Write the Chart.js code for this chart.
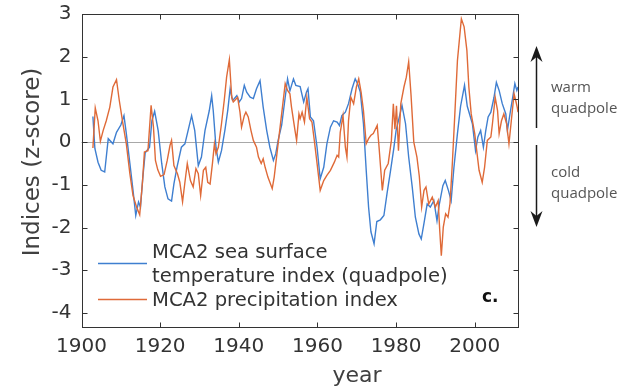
<!DOCTYPE html>
<html lang="en">
<head>
<meta charset="UTF-8">
<title>MCA2 indices</title>
<script src="https://cdn.jsdelivr.net/npm/chart.js"></script>
<style>
    html, body { margin: 0; padding: 0; background: #ffffff; }
    #wrap { width: 634px; height: 391px; }
</style>
</head>
<body>
<div id="wrap"><canvas id="mcaChart" width="634" height="391"></canvas></div>
<script>
// values (year, z-score)
const sstYears = [
    1902.9, 1903.4, 1904.2, 1905.0, 1905.9, 1906.8, 1908.0, 1908.9, 1910.0, 1910.8,
    1911.4, 1912.3, 1913.1, 1913.8, 1914.5, 1915.0, 1915.6, 1916.2, 1917.3, 1917.9,
    1918.6, 1919.5, 1920.4, 1921.2, 1922.0, 1922.9, 1923.5, 1924.3, 1925.4, 1926.3,
    1927.1, 1928.0, 1928.8, 1929.7, 1930.5, 1931.4, 1932.5, 1933.1, 1933.5, 1934.2,
    1934.8, 1935.6, 1936.5, 1937.2, 1937.8, 1938.4, 1938.9, 1939.5, 1940.1, 1940.7,
    1941.4, 1942.0, 1942.9, 1943.7, 1944.5, 1945.4, 1946.2, 1947.1, 1947.9, 1948.8,
    1949.4, 1950.0, 1950.9, 1951.8, 1952.4, 1953.0, 1953.9, 1954.5, 1955.6, 1956.5,
    1957.2, 1957.6, 1958.2, 1959.0, 1959.9, 1960.7, 1961.6, 1962.4, 1963.3, 1964.1,
    1965.0, 1965.6, 1966.2, 1967.1, 1967.9, 1968.8, 1969.6, 1970.2, 1970.9, 1971.7,
    1972.4, 1973.0, 1973.6, 1974.4, 1975.1, 1976.0, 1976.9, 1977.7, 1978.6, 1979.4,
    1980.0, 1980.9, 1981.5, 1982.4, 1983.2, 1984.1, 1984.9, 1985.8, 1986.4, 1987.1,
    1987.9, 1988.7, 1989.6, 1990.4, 1991.0, 1991.9, 1992.5, 1993.3, 1994.0, 1994.7,
    1995.6, 1996.4, 1997.4, 1998.1, 1999.4, 2000.2, 2000.8, 2001.5, 2002.2, 2002.8,
    2003.4, 2004.1, 2004.9, 2005.5, 2006.2, 2007.0, 2007.9, 2008.3, 2009.1, 2009.8,
    2010.2, 2010.7, 2011.0
];
const sstValues = [
    0.6, -0.15, -0.47, -0.66, -0.7, 0.08, -0.04, 0.23, 0.4, 0.62,
    0.2, -0.5, -1.13, -1.72, -1.4, -1.52, -0.82, -0.25, -0.12, 0.5,
    0.72, 0.27, -0.5, -1.05, -1.33, -1.38, -0.98, -0.58, -0.12, -0.04,
    0.27, 0.62, 0.27, -0.55, -0.35, 0.27, 0.74, 1.09, 0.74, -0.12,
    -0.47, -0.2, 0.3, 0.75, 1.25, 0.98, 1.02, 1.09, 0.94, 1.02,
    1.33, 1.17, 1.05, 1.02, 1.25, 1.44, 0.82, 0.27, -0.12, -0.43,
    -0.27, 0.04, 0.4, 1.05, 1.48, 1.2, 1.48, 1.33, 1.3, 0.94,
    1.17, 1.25, 0.59, 0.5, -0.12, -0.86, -0.59, -0.04, 0.35, 0.5,
    0.47, 0.39, 0.62, 0.7, 0.9, 1.25, 1.48, 1.37, 1.17, 0.43,
    -0.66, -1.52, -2.1, -2.38, -1.86, -1.82, -1.72, -1.2, -0.66, -0.16,
    0.27, 0.62, 0.86, 0.43, -0.35, -1.05, -1.76, -2.15, -2.27, -1.9,
    -1.45, -1.52, -1.37, -1.84, -1.45, -1.02, -0.9, -1.13, -1.37, -0.6,
    0.2, 0.84, 1.33, 0.84, 0.43, -0.2, 0.12, 0.27, -0.12, 0.27,
    0.59, 0.7, 1.05, 1.4, 1.21, 0.9, 0.66, 0.27, 0.74, 1.13,
    1.37, 1.21, 1.29
];
const precipYears = [
    1902.9, 1903.5, 1904.2, 1904.8, 1905.5, 1906.3, 1907.2, 1908.0, 1908.9, 1909.6,
    1910.5, 1911.4, 1912.3, 1913.1, 1914.0, 1914.8, 1915.5, 1916.0, 1916.9, 1917.7,
    1918.3, 1918.8, 1919.4, 1920.1, 1921.0, 1921.8, 1922.5, 1922.9, 1923.5, 1924.4,
    1925.0, 1925.7, 1926.3, 1926.9, 1927.7, 1928.4, 1929.1, 1929.7, 1930.3, 1931.0,
    1931.6, 1932.1, 1932.7, 1933.3, 1933.8, 1934.2, 1934.8, 1935.6, 1936.3, 1936.9,
    1937.6, 1938.2, 1938.6, 1939.0, 1939.7, 1940.3, 1940.7, 1941.4, 1941.8, 1942.4,
    1943.1, 1943.7, 1944.5, 1945.0, 1945.7, 1946.2, 1946.7, 1947.4, 1947.9, 1948.5,
    1949.0, 1949.6, 1950.5, 1951.1, 1951.8, 1952.4, 1953.0, 1953.4, 1954.3, 1954.7,
    1955.3, 1955.6, 1956.1, 1956.7, 1957.3, 1958.0, 1958.6, 1959.2, 1959.9, 1960.7,
    1961.6, 1962.4, 1963.3, 1964.3, 1965.0, 1965.4, 1965.8, 1966.5, 1967.1, 1967.5,
    1967.9, 1968.5, 1969.2, 1969.9, 1970.5, 1971.1, 1971.7, 1972.4, 1973.0, 1973.6,
    1974.2, 1975.2, 1975.6, 1976.5, 1977.1, 1978.0, 1978.8, 1979.3, 1979.7, 1980.1,
    1980.6, 1981.2, 1982.0, 1982.6, 1983.2, 1983.8, 1984.5, 1985.3, 1985.9, 1986.5,
    1987.1, 1987.6, 1988.3, 1989.2, 1990.0, 1990.7, 1991.1, 1991.5, 1992.0, 1992.6,
    1993.2, 1993.7, 1994.3, 1994.9, 1995.6, 1996.3, 1996.6, 1997.3, 1998.0, 1998.5,
    1999.1, 2000.0, 2000.5, 2001.1, 2001.9, 2002.5, 2003.2, 2004.1, 2004.5, 2005.2,
    2005.8, 2006.2, 2006.8, 2007.4, 2008.1, 2008.7, 2009.3, 2010.0, 2010.4, 2010.8,
    2011.0
];
const precipValues = [
    -0.14, 0.8, 0.5, 0.02, 0.27, 0.5, 0.82, 1.29, 1.46, 0.98,
    0.45, -0.04, -0.74, -1.25, -1.52, -1.7, -0.94, -0.23, -0.2, 0.86,
    0.35, -0.43, -0.65, -0.8, -0.76, -0.43, -0.08, 0.04, -0.55, -0.74,
    -0.94, -1.4, -0.94, -0.5, -0.9, -1.05, -0.62, -0.74, -1.25, -0.66,
    -0.59, -0.94, -0.98, -0.5, -0.04, -0.27, -0.12, 0.43, 0.98, 1.52,
    1.93, 1.05, 0.94, 0.98, 1.05, 0.7, 0.35, 0.62, 0.7, 0.59,
    0.27, 0.04, -0.12, -0.35, -0.5, -0.39, -0.59, -0.82, -0.94, -1.09,
    -0.82, -0.35, 0.35, 0.82, 1.37, 1.21, 1.13, 0.82, 0.27, 0.04,
    0.66, 0.55, 0.7, 0.47, 1.05, 0.55, 0.47, 0.04, -0.5, -1.13,
    -0.9, -0.78, -0.66, -0.47, -0.31, -0.35, 0.23, 0.62, -0.12, -0.35,
    0.5, 1.05, 0.9, 1.29, 1.48, 1.17, 0.74, -0.04, 0.08, 0.16,
    0.2, 0.39, -0.04, -1.13, -0.66, -0.5, 0.04, 0.9, 0.3, 0.85,
    -0.2, 0.9, 1.29, 1.52, 1.88, 1.1, 0.0, -0.35, -0.8, -1.52,
    -1.13, -1.05, -1.45, -1.29, -1.52, -1.37, -2.07, -2.66, -1.99, -1.68,
    -1.76, -1.45, -0.5, 0.59, 1.91, 2.6, 2.89, 2.7, 2.15, 1.29,
    0.66, 0.2, -0.2, -0.66, -0.94, -0.59, 0.04, 0.12, 0.43, 1.05,
    0.74, 0.2, 0.5, 0.66, 0.43, -0.04, 0.5, 1.13, 0.98, 0.82,
    0.7
];
const xTicks = [1900, 1920, 1940, 1960, 1980, 2000];
const yTicks = [-4, -3, -2, -1, 0, 1, 2, 3];
const sstLabel = ["MCA2 sea surface", "temperature index (quadpole)"];
const precipLabel = ["MCA2 precipitation index"];

const BLUE = "#3f7fd0";
const ORANGE = "#df6a38";
const AXIS = "#333333";
const FONT = "'DejaVu Sans', sans-serif";

// box, inward ticks, zero line, axis titles, legend and the side notes
const figureExtras = {
    id: "figureExtras",
    beforeDatasetsDraw(chart) {
        const { ctx, chartArea: a, scales: { y } } = chart;
        const y0 = Math.round(y.getPixelForValue(0)) + 0.5;
        ctx.save();
        ctx.strokeStyle = "#a8a8a8";
        ctx.lineWidth = 1;
        ctx.beginPath();
        ctx.moveTo(a.left, y0);
        ctx.lineTo(a.right, y0);
        ctx.stroke();
        ctx.restore();
    },
    afterDraw(chart) {
        const { ctx, chartArea: a, scales: { x, y } } = chart;
        ctx.save();
        ctx.strokeStyle = AXIS;
        ctx.lineWidth = 1;
        const L = Math.round(a.left) + 0.5, R = Math.round(a.right) + 0.5;
        const T = Math.round(a.top) + 0.5, B = Math.round(a.bottom) + 0.5;
        ctx.strokeRect(L, T, R - L, B - T);
        ctx.beginPath();
        xTicks.forEach(v => {
            const px = Math.round(x.getPixelForValue(v)) + 0.5;
            ctx.moveTo(px, B); ctx.lineTo(px, B - 5);
            ctx.moveTo(px, T); ctx.lineTo(px, T + 5);
        });
        yTicks.forEach(v => {
            const py = Math.round(y.getPixelForValue(v)) + 0.5;
            ctx.moveTo(L, py); ctx.lineTo(L + 5, py);
            ctx.moveTo(R, py); ctx.lineTo(R - 5, py);
        });
        ctx.stroke();

        // axis titles (placed like the original, not centred on the axes)
        ctx.fillStyle = "#404040";
        ctx.font = "22px " + FONT;
        ctx.textAlign = "center";
        ctx.textBaseline = "middle";
        ctx.fillText("year", 357, 376);
        ctx.save();
        ctx.translate(33, 162);
        ctx.rotate(-Math.PI / 2);
        ctx.font = "23px " + FONT;
        ctx.fillText("Indices (z-score)", 0, 0);
        ctx.restore();

        // legend
        ctx.lineWidth = 1.4;
        ctx.strokeStyle = BLUE;
        ctx.beginPath(); ctx.moveTo(98, 263.5); ctx.lineTo(147, 263.5); ctx.stroke();
        ctx.strokeStyle = ORANGE;
        ctx.beginPath(); ctx.moveTo(98, 299.5); ctx.lineTo(147, 299.5); ctx.stroke();
        ctx.fillStyle = AXIS;
        ctx.font = "19.6px " + FONT;
        ctx.textBaseline = "middle";
        ctx.textAlign = "left";
        ctx.fillText(sstLabel[0], 152, 253);
        ctx.fillText(sstLabel[1], 152, 277);
        ctx.fillText(precipLabel[0], 152, 301);
        ctx.font = "bold 17px " + FONT;
        ctx.fillStyle = "#111";
        ctx.fillText("c.", 482, 298);

        // arrows on the right
        const ax = 536.5;
        drawArrow(ctx, ax, 128, 46);
        drawArrow(ctx, ax, 145, 227);
        ctx.fillStyle = "#555";
        ctx.font = "15px 'Open Sans', sans-serif";
        ctx.fillText("warm", 551, 88);
        ctx.fillText("quadpole", 551, 109);
        ctx.fillText("cold", 551, 173);
        ctx.fillText("quadpole", 551, 194);
        ctx.restore();
    }
};

function drawArrow(ctx, x, from, tip) {
    const dir = tip < from ? 1 : -1;
    ctx.strokeStyle = "#1a1a1a";
    ctx.fillStyle = "#1a1a1a";
    ctx.lineWidth = 1.5;
    ctx.beginPath();
    ctx.moveTo(x, from);
    ctx.lineTo(x, tip + dir * 10);
    ctx.stroke();
    ctx.beginPath();
    ctx.moveTo(x, tip);
    ctx.lineTo(x - 6, tip + dir * 16);
    ctx.lineTo(x, tip + dir * 11);
    ctx.lineTo(x + 6, tip + dir * 16);
    ctx.closePath();
    ctx.fill();
}

new Chart(document.getElementById("mcaChart"), {
    type: "line",
    data: {
        datasets: [
            {
                label: sstLabel.join(" "),
                data: sstYears.map((yr, i) => ({ x: yr, y: sstValues[i] })),
                borderColor: BLUE,
                borderWidth: 1.4,
                pointRadius: 0,
                tension: 0,
                order: 1
            },
            {
                label: precipLabel[0],
                data: precipYears.map((yr, i) => ({ x: yr, y: precipValues[i] })),
                borderColor: ORANGE,
                borderWidth: 1.4,
                pointRadius: 0,
                tension: 0,
                order: 0
            }
        ]
    },
    options: {
        responsive: false,
        animation: false,
        layout: { padding: { top: 14, right: 116, left: 0, bottom: 0 } },
        plugins: {
            legend: { display: false },
            tooltip: { enabled: false }
        },
        scales: {
            x: {
                type: "linear",
                min: 1900,
                max: 2011,
                afterBuildTicks: s => { s.ticks = xTicks.map(v => ({ value: v })); },
                afterFit: s => {
                    s.height = 64;
                    s.paddingLeft = 0;
                    s.paddingRight = 0;
                },
                grid: { display: false, drawTicks: false },
                border: { display: false },
                ticks: {
                    padding: 8,
                    color: AXIS,
                    font: { family: FONT, size: 20 },
                    maxRotation: 0,
                    autoSkip: false,
                    callback: v => String(v)
                },
                title: { display: false }
            },
            y: {
                min: -4.33,
                max: 3,
                afterBuildTicks: s => { s.ticks = yTicks.map(v => ({ value: v })); },
                afterFit: s => {
                    s.width = 81.5;
                    s.paddingTop = 0;
                    s.paddingBottom = 0;
                },
                grid: { display: false, drawTicks: false },
                border: { display: false },
                ticks: {
                    padding: 10,
                    color: AXIS,
                    font: { family: FONT, size: 20 },
                    callback: v => String(v)
                },
                title: { display: false }
            }
        }
    },
    plugins: [figureExtras]
});
</script>
</body>
</html>
